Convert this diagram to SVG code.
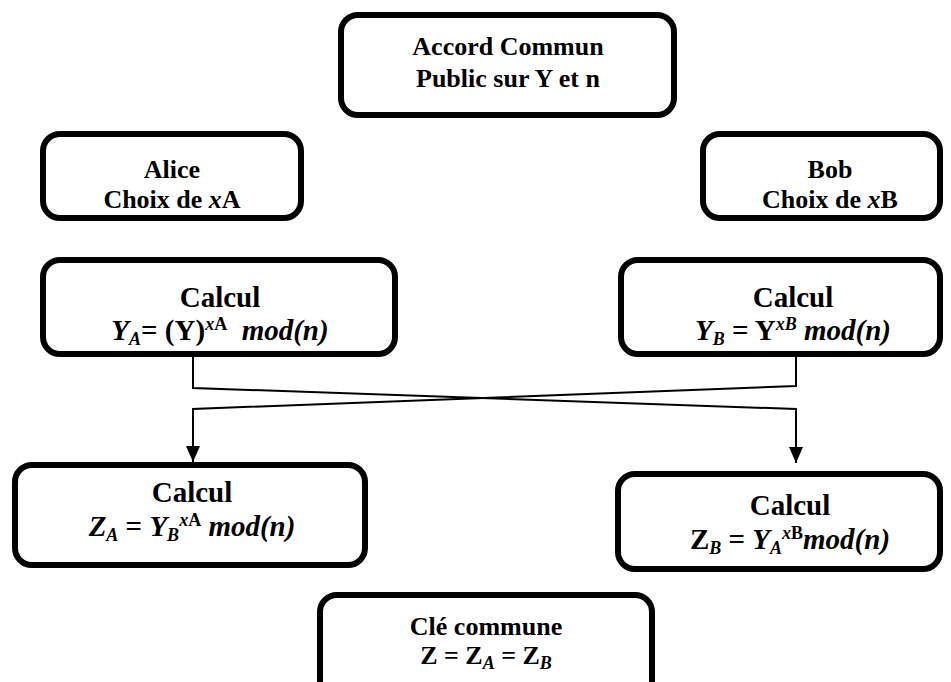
<svg xmlns="http://www.w3.org/2000/svg" width="951" height="682" viewBox="0 0 951 682">
<style>
.box{fill:#fff;stroke:#000;stroke-width:6}
.t{font-family:"Liberation Serif","Times New Roman",serif;font-weight:bold;font-size:26px;fill:#000;text-anchor:middle}
.c{font-family:"Liberation Serif","Times New Roman",serif;font-weight:bold;font-size:29px;fill:#000;text-anchor:middle}
.i{font-style:italic}
.s{font-size:18px}
.con{fill:none;stroke:#000;stroke-width:2}
</style>
<defs>
<marker id="arr" markerUnits="userSpaceOnUse" markerWidth="16" markerHeight="14" refX="16" refY="7" orient="auto">
<path d="M0,0 L16,7 L0,14 z" fill="#000"/>
</marker>
</defs>
<rect width="951" height="682" fill="#fff"/>
<g id="connectors">
<path class="con" d="M193,357 V388 L796,409 V463" marker-end="url(#arr)"/>
<path class="con" d="M796,357 V386 L193,409 V462" marker-end="url(#arr)"/>
</g>
<g id="accord">
<rect class="box" x="341" y="15" width="333" height="100" rx="17"/>
<text class="t" x="508" y="55">Accord Commun</text>
<text class="t" x="508" y="87">Public sur Y et n</text>
</g>
<g id="alice">
<rect class="box" x="43" y="134" width="258" height="84" rx="17"/>
<text class="t" x="172" y="178">Alice</text>
<text class="t" x="172" y="208">Choix de <tspan class="i">x</tspan>A</text>
</g>
<g id="bob">
<rect class="box" x="703" y="134" width="237" height="84" rx="17"/>
<text class="t" x="830" y="178">Bob</text>
<text class="t" x="830" y="208">Choix de <tspan class="i">x</tspan>B</text>
</g>
<g id="calcYA">
<rect class="box" x="43" y="260" width="352" height="94" rx="17"/>
<text class="c" x="220" y="307">Calcul</text>
<text class="c" x="220" y="340"><tspan class="i">Y</tspan><tspan class="i s" dy="5">A</tspan><tspan dy="-5">= (Y)</tspan><tspan class="i s" dy="-10">x</tspan><tspan class="s">A</tspan><tspan dy="10">&#160; </tspan><tspan class="i">mod(n)</tspan></text>
</g>
<g id="calcYB">
<rect class="box" x="621" y="260" width="319" height="94" rx="17"/>
<text class="c" x="793" y="307">Calcul</text>
<text class="c" x="793" y="340"><tspan class="i">Y</tspan><tspan class="i s" dy="5">B</tspan><tspan dy="-5"> = Y</tspan><tspan class="i s" dy="-10">xB</tspan><tspan dy="10"> </tspan><tspan class="i">mod(n)</tspan></text>
</g>
<g id="calcZA">
<rect class="box" x="15" y="465" width="350" height="100" rx="17"/>
<text class="c" x="192" y="502">Calcul</text>
<text class="c" x="192" y="536"><tspan class="i">Z</tspan><tspan class="i s" dy="5">A</tspan><tspan dy="-5"> = </tspan><tspan class="i">Y</tspan><tspan class="i s" dy="5">B</tspan><tspan class="i s" dy="-15">x</tspan><tspan class="s">A</tspan><tspan dy="10"> </tspan><tspan class="i">mod(n)</tspan></text>
</g>
<g id="calcZB">
<rect class="box" x="618" y="474" width="322" height="95" rx="17"/>
<text class="c" x="790" y="515">Calcul</text>
<text class="c" x="790" y="549"><tspan>Z</tspan><tspan class="i s" dy="5">B</tspan><tspan dy="-5"> = </tspan><tspan class="i">Y</tspan><tspan class="i s" dy="5">A</tspan><tspan class="i s" dy="-15">x</tspan><tspan class="s">B</tspan><tspan class="i" dy="10">mod(n)</tspan></text>
</g>
<g id="cle">
<rect class="box" x="320" y="595" width="332" height="110" rx="17"/>
<text class="t" x="486" y="635">Clé commune</text>
<text class="t" x="486" y="664">Z = Z<tspan class="i s" dy="5">A</tspan><tspan dy="-5"> = Z</tspan><tspan class="i s" dy="5">B</tspan></text>
</g>
</svg>
